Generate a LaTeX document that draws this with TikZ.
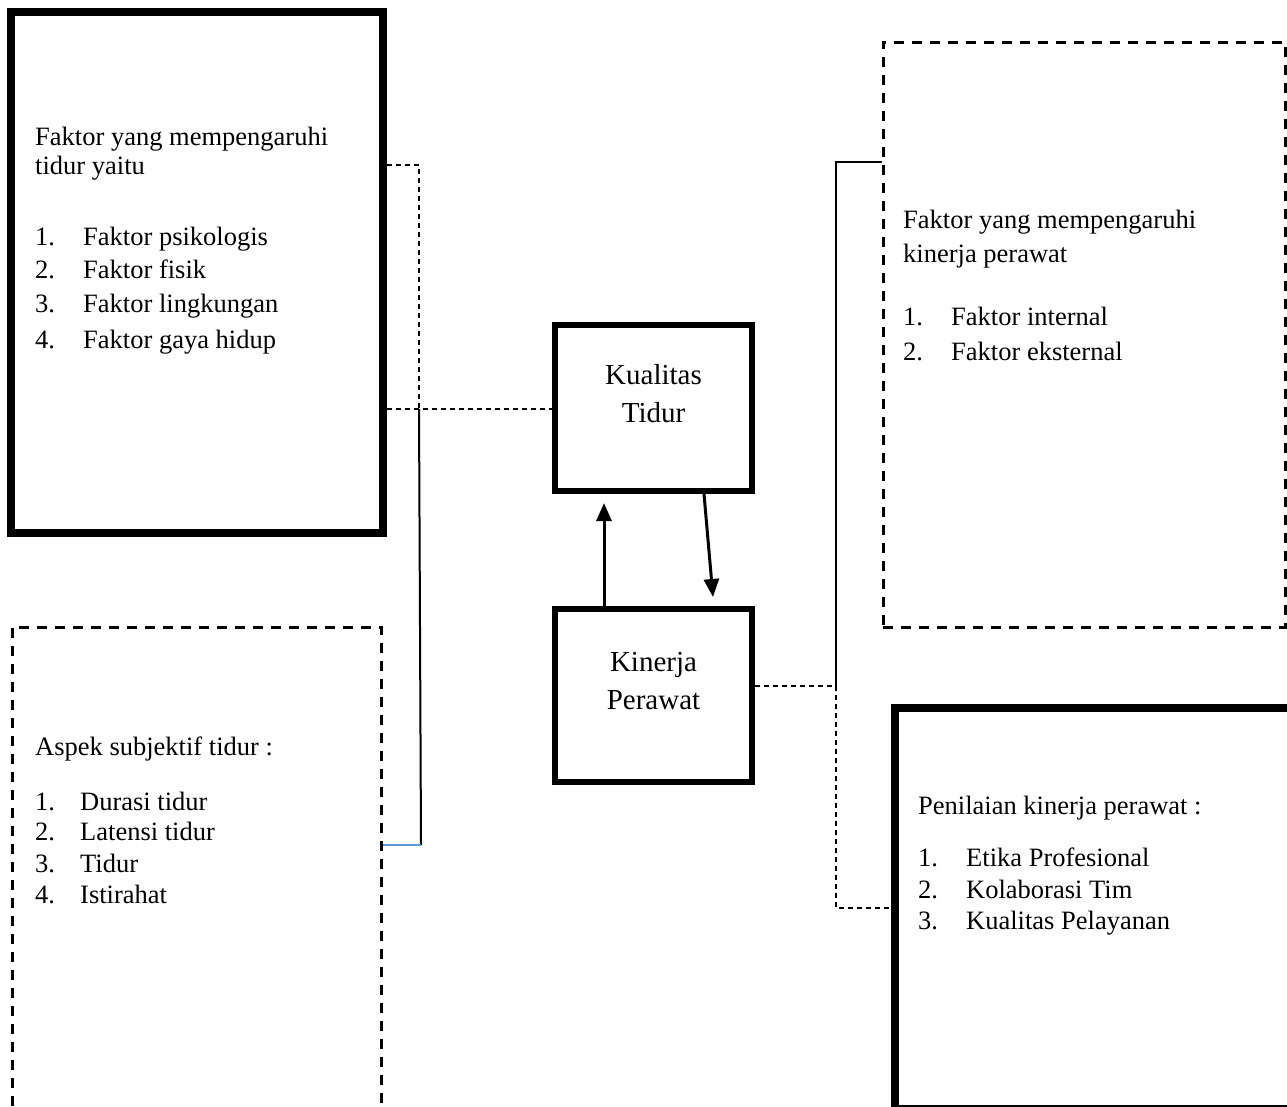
\documentclass[tikz,border=0pt]{standalone}
\usepackage{fontspec}
\setmainfont{Liberation Serif}
\usetikzlibrary{arrows.meta}
\definecolor{linkblue}{RGB}{91,155,213}
\begin{document}
\begin{tikzpicture}[x=1pt,y=-1pt,
  thickbox/.style={draw=black,line width=8pt,inner sep=0pt,minimum width=#1},
  dashbox/.style={draw=black,line width=3pt,dash pattern=on 10pt off 8pt,inner sep=0pt},
  midbox/.style={draw=black,line width=6pt,inner sep=0pt},
  thindash/.style={line width=1.5pt,dash pattern=on 5pt off 4pt},
  thinsolid/.style={line width=2pt},
  txt/.style={anchor=base west,inner sep=0pt,font=\fontsize{26.5}{31}\selectfont},
  ctxt/.style={anchor=base,inner sep=0pt,font=\fontsize{29}{34}\selectfont},
  arr/.style={line width=3pt,-{Triangle[length=18pt,width=15pt]}}
]
\useasboundingbox (0,0) rectangle (1287,1106);
\clip (0,0) rectangle (1287,1106);

% boxes
\node[thickbox=372pt, minimum height=521pt] (ltop) at (197,272.5) {};
\node[dashbox, minimum width=369pt, minimum height=503pt] (lbot) at (196.5,878.5) {};
\node[midbox, minimum width=197pt, minimum height=166pt] (kual) at (653.5,408) {};
\node[midbox, minimum width=197pt, minimum height=173pt] (kin) at (653.5,695.5) {};
\node[dashbox, minimum width=402pt, minimum height=585pt] (rtop) at (1084,334.5) {};
\node[thickbox=396pt, minimum height=401pt] (rbot) at (1093,908.5) {};

% left connectors
\coordinate (j1) at (419,165);
\coordinate (j2) at (419,409);
\coordinate (j3) at (421,845);
\draw[thindash] (ltop.east |- j1) -- (j1) -- (j2);
\draw[thindash] (ltop.east |- j2) -- (j2) -- (kual.west |- j2);
\draw[thinsolid] (j2) -- (j3);
\draw[thinsolid, linkblue] (lbot.east |- j3) -- (j3);

% right connectors
\coordinate (k1) at (836,686);
\coordinate (k2) at (836,162);
\coordinate (k3) at (836,908);
\draw[thindash] (kin.east |- k1) -- (k1);
\draw[thinsolid] (k1) -- (k2) -- (rtop.west |- k2);
\draw[thindash] (k1) -- (k3) -- (rbot.west |- k3);

% arrows
\coordinate (a1) at (604,503);
\coordinate (b2) at (704,0);
\coordinate (a2) at (713,597);
\draw[arr] (kin.north -| a1) -- (a1);
\draw[arr] (kual.south -| b2) -- (a2);

% texts: left top
\node[txt] (t1) at (35,145) {Faktor yang mempengaruhi};
\node[txt] (t2) at (35,174) {tidur yaitu};
\node[txt] (t3n) at (35,245) {1.};
\node[txt] (t3) at (83,245) {Faktor psikologis};
\node[txt] (t4n) at (35,278) {2.};
\node[txt] (t4) at (83,278) {Faktor fisik};
\node[txt] (t5n) at (35,312) {3.};
\node[txt] (t5) at (83,312) {Faktor lingkungan};
\node[txt] (t6n) at (35,348) {4.};
\node[txt] (t6) at (83,348) {Faktor gaya hidup};

% center
\node[ctxt] (c1) at (653.5,384) {Kualitas};
\node[ctxt] (c2) at (653.5,422) {Tidur};
\node[ctxt] (c3) at (653.5,671) {Kinerja};
\node[ctxt] (c4) at (653.5,709) {Perawat};

% right top
\node[txt] (r1) at (903,228) {Faktor yang mempengaruhi};
\node[txt] (r2) at (903,262) {kinerja perawat};
\node[txt] (r3n) at (903,325) {1.};
\node[txt] (r3) at (951,325) {Faktor internal};
\node[txt] (r4n) at (903,360) {2.};
\node[txt] (r4) at (951,360) {Faktor eksternal};

% left bottom
\node[txt] (l1) at (35,755) {Aspek subjektif tidur :};
\node[txt] (l2n) at (35,810) {1.};
\node[txt] (l2) at (80,810) {Durasi tidur};
\node[txt] (l3n) at (35,840) {2.};
\node[txt] (l3) at (80,840) {Latensi tidur};
\node[txt] (l4n) at (35,872) {3.};
\node[txt] (l4) at (80,872) {Tidur};
\node[txt] (l5n) at (35,903) {4.};
\node[txt] (l5) at (80,903) {Istirahat};

% right bottom
\node[txt] (p1) at (918,814) {Penilaian kinerja perawat :};
\node[txt] (p2n) at (918,866) {1.};
\node[txt] (p2) at (966,866) {Etika Profesional};
\node[txt] (p3n) at (918,898) {2.};
\node[txt] (p3) at (966,898) {Kolaborasi Tim};
\node[txt] (p4n) at (918,929) {3.};
\node[txt] (p4) at (966,929) {Kualitas Pelayanan};
\end{tikzpicture}
\end{document}
